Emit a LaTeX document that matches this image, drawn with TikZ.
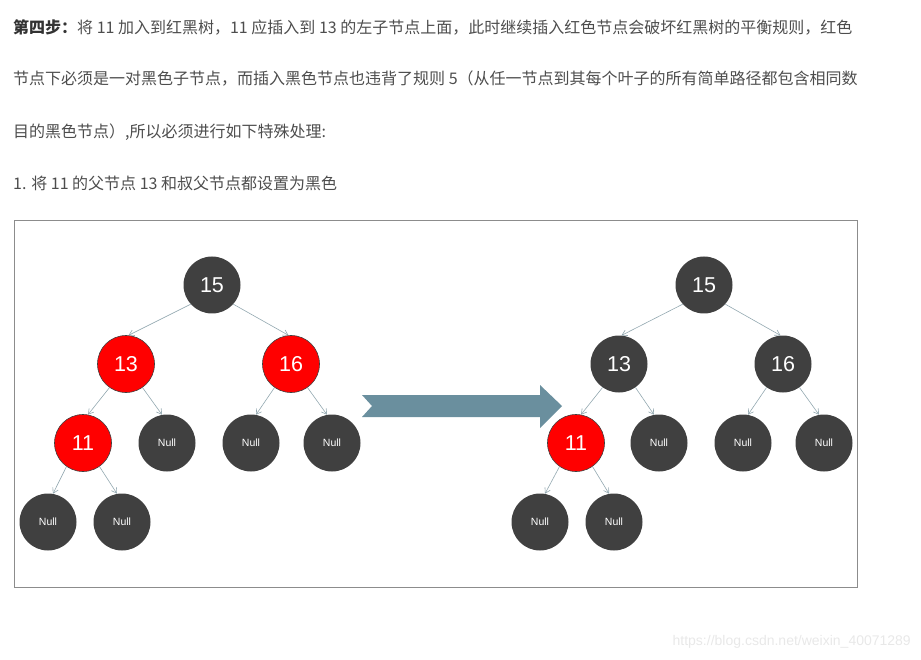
\documentclass[tikz,border=0pt]{standalone}
\usepackage{fontspec}
\setmainfont{Liberation Sans}
\newfontfamily\cjk{Noto Sans CJK SC}
\usetikzlibrary{arrows.meta}
\definecolor{nodegray}{HTML}{404040}
\definecolor{nodered}{HTML}{FF0000}
\definecolor{edgegray}{HTML}{93A8B0}
\definecolor{bigarrow}{HTML}{6A8F9E}
\definecolor{textgray}{HTML}{4D4D4D}

\begin{document}
\begin{tikzpicture}[x=1pt, y=-1pt,
    treenode/.style={circle, minimum size=57pt, inner sep=0pt, text=white},
    blacknode/.style={treenode, fill=nodegray, font=\fontsize{21.5}{21.5}\selectfont},
    rednode/.style={treenode, fill=nodered, draw=nodegray, line width=0.6pt, font=\fontsize{21.5}{21.5}\selectfont},
    nullnode/.style={treenode, fill=nodegray, font=\fontsize{10.5}{10.5}\selectfont},
    edge/.style={draw=edgegray, line width=0.6pt, -{Straight Barb[length=5pt, width=6pt]}},
    line/.style={anchor=west, inner sep=0pt, text=textgray, font=\cjk\fontsize{16}{18}\selectfont}]
  \useasboundingbox (0,0) rectangle (921,660);

  % text above the picture
  \node[line] (line1) at (13,27) {{\bfseries\color{black!80}第四步：}将 11 加入到红黑树，11 应插入到 13 的左子节点上面，此时继续插入红色节点会破坏红黑树的平衡规则，红色};
  \node[line] (line2) at (13,79) {节点下必须是一对黑色子节点，而插入黑色节点也违背了规则 5（从任一节点到其每个叶子的所有简单路径都包含相同数};
  \node[line] (line3) at (13,132) {目的黑色节点）,所以必须进行如下特殊处理:};
  \node[line] (line4) at (13,183) {1. 将 11 的父节点 13 和叔父节点都设置为黑色};

  % frame
  \draw[black!45, line width=0.6pt] (14,220) rectangle (857,587);

  % left tree: before
  \node[blacknode] (l15) at (212,285) {15};
  \node[rednode] (l13) at (126,364) {13};
  \node[rednode] (l16) at (291,364) {16};
  \node[rednode] (l11) at (83,443) {11};
  \node[nullnode] (l13n) at (167,443) {Null};
  \node[nullnode] (l16a) at (251,443) {Null};
  \node[nullnode] (l16b) at (332,443) {Null};
  \node[nullnode] (l11a) at (48,522) {Null};
  \node[nullnode] (l11b) at (122,522) {Null};
  \draw[edge] (l15.-138) -- (l13.85);
  \draw[edge] (l15.-42) -- (l16.95);
  \draw[edge] (l13.-125) -- (l11.80);
  \draw[edge] (l13.-55) -- (l13n.100);
  \draw[edge] (l16.-125) -- (l16a.80);
  \draw[edge] (l16.-55) -- (l16b.100);
  \draw[edge] (l11.-125) -- (l11a.80);
  \draw[edge] (l11.-55) -- (l11b.100);

  % big arrow
  \fill[bigarrow] (362,395) -- (540,395) -- (540,385) -- (562,406) -- (540,428)
    -- (540,417) -- (362,417) -- (372,406) -- cycle;

  % right tree: after
  \node[blacknode] (r15) at (704,285) {15};
  \node[blacknode] (r13) at (619,364) {13};
  \node[blacknode] (r16) at (783,364) {16};
  \node[rednode] (r11) at (576,443) {11};
  \node[nullnode] (r13n) at (659,443) {Null};
  \node[nullnode] (r16a) at (743,443) {Null};
  \node[nullnode] (r16b) at (824,443) {Null};
  \node[nullnode] (r11a) at (540,522) {Null};
  \node[nullnode] (r11b) at (614,522) {Null};
  \draw[edge] (r15.-138) -- (r13.85);
  \draw[edge] (r15.-42) -- (r16.95);
  \draw[edge] (r13.-125) -- (r11.80);
  \draw[edge] (r13.-55) -- (r13n.100);
  \draw[edge] (r16.-125) -- (r16a.80);
  \draw[edge] (r16.-55) -- (r16b.100);
  \draw[edge] (r11.-125) -- (r11a.80);
  \draw[edge] (r11.-55) -- (r11b.100);

  % watermark
  \node[anchor=east, inner sep=0pt, text=black!9, font=\fontsize{14}{14}\selectfont] (mark) at (911,642) {https://blog.csdn.net/weixin\_40071289};
\end{tikzpicture}
\end{document}
